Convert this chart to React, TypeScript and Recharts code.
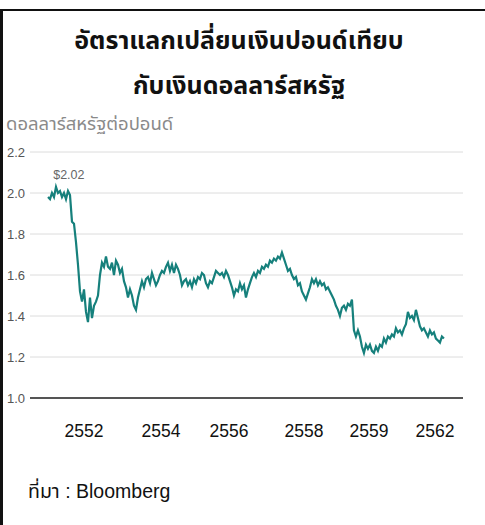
import React from 'react';
import { LineChart, Line, XAxis, YAxis, CartesianGrid, ReferenceDot } from 'recharts';

const titleLines = ['อัตราแลกเปลี่ยนเงินปอนด์เทียบ', 'กับเงินดอลลาร์สหรัฐ'];
const yAxisTitle = 'ดอลลาร์สหรัฐต่อปอนด์';
const sourceText = 'ที่มา : Bloomberg';

// Buddhist-era year of first point, points per year
const startYear = 2551;
const pointsPerYear = 18;

// USD per GBP (roughly every 20 days)
const rate = [
  1.98, 1.97, 2.0, 1.98, 2.03, 2.0, 2.01, 1.98, 2.0, 1.97, 2.01, 1.99,
  1.86, 1.85, 1.76, 1.65, 1.52, 1.47, 1.53, 1.42, 1.37, 1.49, 1.39, 1.45,
  1.47, 1.5, 1.6, 1.66, 1.64, 1.69, 1.64, 1.63, 1.66, 1.6, 1.67, 1.65,
  1.61, 1.63, 1.57, 1.54, 1.49, 1.53, 1.5, 1.45, 1.43, 1.49, 1.53, 1.57,
  1.54, 1.58, 1.59, 1.56, 1.61, 1.58, 1.55, 1.57, 1.6, 1.62, 1.61, 1.64,
  1.66, 1.62, 1.65, 1.61, 1.65, 1.63, 1.6, 1.55, 1.57, 1.58, 1.55, 1.57,
  1.54, 1.58, 1.56, 1.59, 1.58, 1.61, 1.6, 1.56, 1.54, 1.57, 1.56, 1.59,
  1.62, 1.61, 1.6, 1.61, 1.59, 1.62, 1.6, 1.57, 1.54, 1.5, 1.53, 1.52,
  1.56, 1.53, 1.55, 1.49, 1.53, 1.56, 1.59, 1.61, 1.59, 1.62, 1.61, 1.64,
  1.63, 1.65, 1.64, 1.67, 1.66, 1.68, 1.67, 1.69, 1.68, 1.71, 1.68, 1.65,
  1.62, 1.63, 1.6, 1.58, 1.59, 1.55, 1.56, 1.52, 1.5, 1.48, 1.51, 1.54,
  1.58, 1.56, 1.58, 1.55, 1.57, 1.55, 1.56, 1.53, 1.54, 1.52, 1.5, 1.48,
  1.45, 1.43, 1.4, 1.44, 1.45, 1.43, 1.46, 1.45, 1.48, 1.33, 1.3, 1.33,
  1.3, 1.25, 1.22, 1.26, 1.24, 1.26, 1.23, 1.22, 1.25, 1.23, 1.26, 1.25,
  1.29, 1.27, 1.3, 1.29, 1.31, 1.3, 1.34, 1.32, 1.33, 1.31, 1.34, 1.36,
  1.42, 1.39, 1.4, 1.38, 1.43, 1.39, 1.35, 1.33, 1.34, 1.32, 1.3, 1.33,
  1.31, 1.32, 1.29, 1.28, 1.27, 1.3, 1.29,
];

const yTicks = [1.0, 1.2, 1.4, 1.6, 1.8, 2.0, 2.2];
const xTickYears = [2552, 2554.14, 2556.03, 2558.11, 2559.92, 2561.75];
const xTickLabels = ['2552', '2554', '2556', '2558', '2559', '2562'];

const peakLabel = '$2.02';
const peakLabelAt = { t: 2551.58, v: 2.088 };

const data = rate.map((v, i) => ({ t: startYear + i / pointsPerYear, v }));

const thaiFont = "'Noto Sans Thai', 'Noto Sans Thai UI', Tahoma, 'Noto Sans', 'DejaVu Sans', sans-serif";
const latinFont = "'Liberation Sans', Arial, 'Noto Sans Thai', sans-serif";

const YTick = (props: any) => {
  const { y, payload } = props;
  return (
    <text x={7} y={y} dy={4.5} fontSize={13} fill="#555" textAnchor="start" fontFamily={latinFont}>
      {Number(payload.value).toFixed(1)}
    </text>
  );
};

const XTick = (props: any) => {
  const { x, payload } = props;
  const idx = xTickYears.indexOf(payload.value);
  return (
    <text x={x} y={437} fontSize={17.5} fill="#111" textAnchor="middle" fontFamily={latinFont}>
      {idx >= 0 ? xTickLabels[idx] : ''}
    </text>
  );
};

export default function App() {
  return (
    <div style={{ position: 'absolute', left: 0, top: 0, width: 485, height: 525, background: '#fff', overflow: 'hidden' }}>
      <div style={{ position: 'absolute', left: 0, top: 9, width: 485, height: 516, borderTop: '2px solid #111', borderLeft: '3px solid #111', boxSizing: 'border-box' }} />
      <div style={{ position: 'absolute', left: 0, top: 19, width: 478, textAlign: 'center', fontFamily: thaiFont, fontWeight: 'bold', fontSize: 25, lineHeight: '45px', color: '#111' }}>
        <div>{titleLines[0]}</div>
        <div>{titleLines[1]}</div>
      </div>
      <div style={{ position: 'absolute', left: 6, top: 111, fontFamily: thaiFont, fontSize: 18.5, color: '#8a8a8a', whiteSpace: 'nowrap', lineHeight: '26px' }}>
        {yAxisTitle}
      </div>
      <div style={{ position: 'absolute', left: 28, top: 477, fontFamily: latinFont, fontSize: 19.5, color: '#111', whiteSpace: 'nowrap' }}>
        {sourceText}
      </div>
      <div style={{ position: 'absolute', left: 0, top: 0 }}>
        <LineChart width={485} height={525} data={data} margin={{ top: 152, right: 22, left: 0, bottom: 82 }}>
          <CartesianGrid vertical={false} stroke="#dcdcdc" strokeWidth={1} />
          <XAxis
            type="number"
            dataKey="t"
            domain={[2550.5, 2562.53]}
            ticks={xTickYears}
            height={45}
            tickLine={false}
            axisLine={{ stroke: '#555', strokeWidth: 2 }}
            tick={<XTick />}
            interval={0}
            allowDataOverflow
          />
          <YAxis
            type="number"
            domain={[1, 2.2]}
            ticks={yTicks}
            width={30}
            axisLine={false}
            tickLine={false}
            tick={<YTick />}
            interval={0}
            allowDataOverflow
          />
          <ReferenceDot
            x={peakLabelAt.t}
            y={peakLabelAt.v}
            r={0}
            fill="none"
            stroke="none"
            label={{ value: peakLabel, position: 'center', fontSize: 12.5, fill: '#666', fontFamily: latinFont }}
          />
          <Line
            type="linear"
            dataKey="v"
            stroke="#16807c"
            strokeWidth={2.2}
            dot={false}
            isAnimationActive={false}
          />
        </LineChart>
      </div>
    </div>
  );
}
